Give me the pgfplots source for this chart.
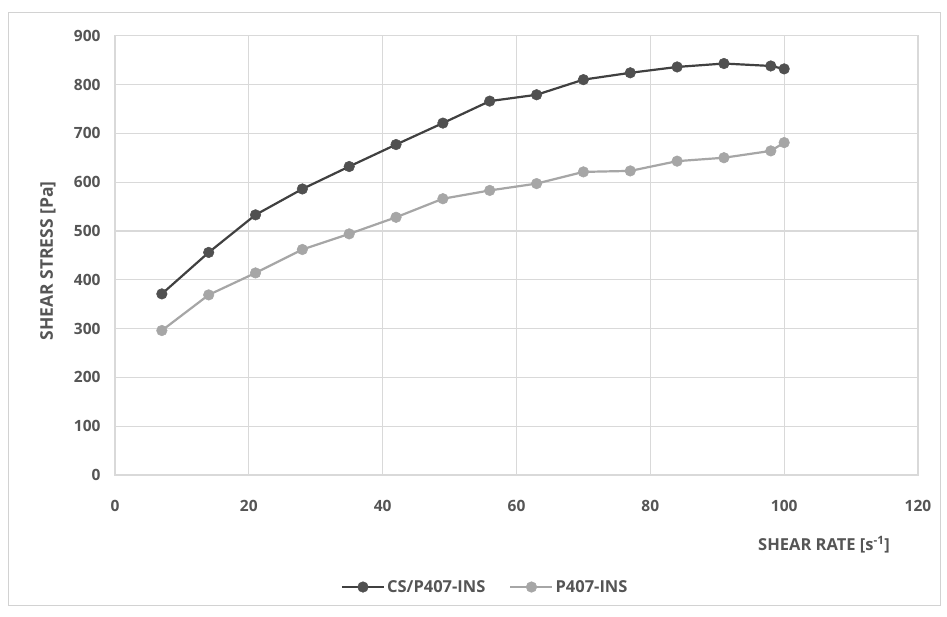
\documentclass[border=0pt]{standalone}
\usepackage{pgfplots}
\pgfplotsset{compat=1.18}
\usepackage{fontspec}
\setmainfont{Open Sans}
\definecolor{gridc}{RGB}{217,217,217}
\definecolor{labc}{RGB}{85,85,85}
\definecolor{darkser}{RGB}{64,64,64}
\definecolor{darkmark}{RGB}{80,80,80}
\definecolor{lightser}{RGB}{166,166,166}
\definecolor{framec}{RGB}{210,210,210}
\pgfplotstableread{
x y
7 371
14 456
21 533
28 586
35 632
42 677
49 721
56 766
63 779
70 810
77 824
84 836
91 843
98 838
100 832
}\cs
\pgfplotstableread{
x y
7 296
14 369
21 414
28 462
35 494
42 528
49 566
56 583
63 597
70 621
77 623
84 643
91 650
98 664
100 681
}\pf
\begin{document}
\begin{tikzpicture}[x=1pt,y=1pt]
\path[use as bounding box] (0,0) rectangle (947,616);
\fill[white] (0,0) rectangle (947,616);
\draw[framec, line width=0.8pt] (8,11) rectangle (940,604);
\begin{axis}[
  at={(115pt,141pt)}, anchor=south west,
  scale only axis, width=803pt, height=439.3pt,
  xmin=0, xmax=120, ymin=0, ymax=900,
  xtick={0,20,...,120}, ytick={0,100,...,900},
  grid=major, grid style={gridc, line width=1.2pt},
  axis line style={gridc, line width=1.2pt},
  tick style={draw=none},
  /pgf/number format/assume math mode=true,
  ticklabel style={font=\bfseries\fontsize{15.5}{17}\selectfont, text=labc},
  xticklabel style={yshift=-22pt},
  yticklabel style={xshift=-11pt},
  legend style={at={(0.461,-0.255)}, anchor=center, draw=none, fill=none,
    font=\bfseries\fontsize{16.5}{18}\selectfont, text=labc, legend columns=2,
    nodes={inner sep=2pt},
    /tikz/every even column/.append style={column sep=22pt}},
  legend image code/.code={
    \draw[#1, mark repeat=2, mark phase=2] plot coordinates {(0pt,0pt) (21pt,0pt) (42pt,0pt)};},
]
\addplot[darkser, line width=2.2pt, mark=*, mark size=5.3pt, mark options={fill=darkmark, draw=darkmark, line width=0.5pt}] table {\cs};
\addlegendentry{CS/P407-INS}
\addplot[lightser, line width=2.2pt, mark=*, mark size=5.3pt, mark options={fill=lightser, draw=lightser, line width=0.5pt}] table {\pf};
\addlegendentry{P407-INS}
\end{axis}
\node[rotate=90, font=\bfseries\fontsize{17.5}{19}\selectfont, text=labc] at (48,355) {SHEAR STRESS [Pa]};
\node[font=\bfseries\fontsize{16.5}{18}\selectfont, text=labc] at (824,71) {SHEAR RATE [s\textsuperscript{-1}]};
\end{tikzpicture}
\end{document}
